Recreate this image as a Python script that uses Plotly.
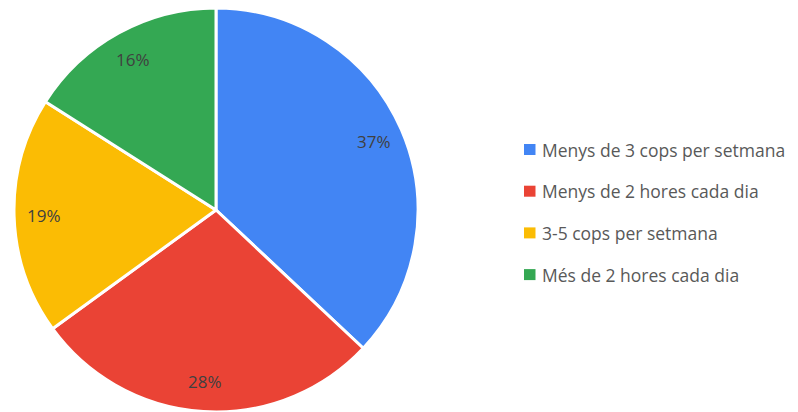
import math
import plotly.graph_objects as go

labels = ["Menys de 3 cops per setmana", "Menys de 2 hores cada dia",
          "3-5 cops per setmana", "Més de 2 hores cada dia"]
values = [37, 28, 19, 16]
colors = ["#4285F4", "#EA4335", "#FBBC04", "#34A853"]

W, H = 798, 412
FONT = "'Open Sans', Lato, sans-serif"

# pie geometry (figure pixels)
CX, CY, R = 208, 202, 202

fig = go.Figure(go.Pie(
    labels=labels, values=values, sort=False, direction="clockwise", rotation=0,
    marker=dict(colors=colors, line=dict(color="white", width=3)),
    textinfo="none",
    domain=dict(x=[(CX - R) / W, (CX + R) / W], y=[1 - (CY + R) / H, 1 - (CY - R) / H]),
    showlegend=False, hoverinfo="label+percent",
))

# percentage labels along each slice's mid-angle
total = sum(values)
cum = 0
for v in values:
    mid = (cum + v / 2) / total * 2 * math.pi
    cum += v
    px = CX + 0.85 * R * math.sin(mid)
    py = CY - 0.85 * R * math.cos(mid)
    fig.add_annotation(xref="paper", yref="paper", x=px / W, y=1 - py / H,
                       xanchor="center", yanchor="middle", showarrow=False,
                       text=f"{round(v / total * 100)}%",
                       font=dict(family=FONT, size=17, color="#404040"))

# legend drawn manually
y0, dy = 141.5, 41.7
for i, (lab, col) in enumerate(zip(labels, colors)):
    yc = y0 + i * dy
    fig.add_shape(type="rect", xref="paper", yref="paper",
                  x0=516 / W, x1=527.5 / W, y0=1 - (yc + 5.5) / H, y1=1 - (yc - 5.5) / H,
                  fillcolor=col, line=dict(width=0))
    fig.add_annotation(xref="paper", yref="paper", x=532 / W, y=1 - yc / H,
                       xanchor="left", yanchor="middle", text=lab, showarrow=False,
                       font=dict(family=FONT, size=17.5, color="#595959"))

fig.update_layout(width=W, height=H, margin=dict(l=0, r=0, t=0, b=0),
                  paper_bgcolor="white", plot_bgcolor="white")
fig.write_html("out.html")
